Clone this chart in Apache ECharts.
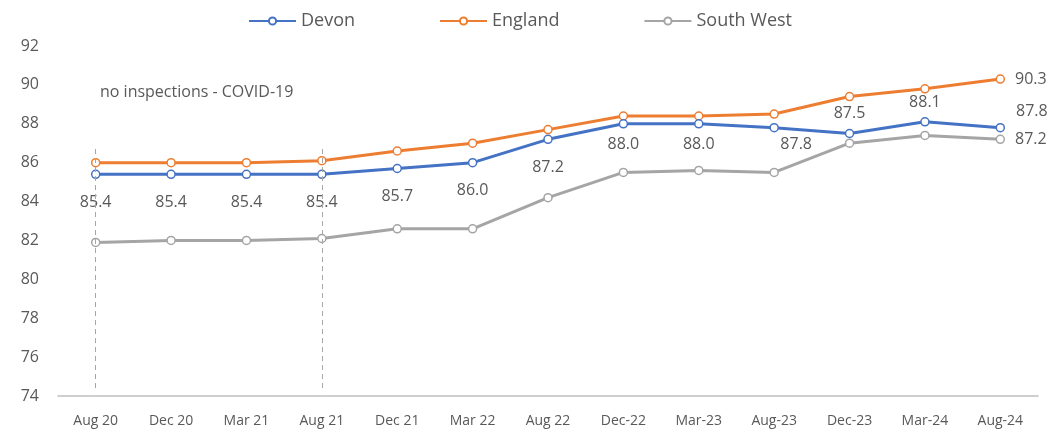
<!DOCTYPE html>
<html>
<head>
<meta charset="utf-8">
<script src="https://cdn.jsdelivr.net/npm/echarts@6/dist/echarts.min.js"></script>
<style>
  html, body { margin: 0; padding: 0; background: #fff; }
  #chart { width: 1055px; height: 429px; }
</style>
</head>
<body>
<div id="chart"></div>
<script>
// Inspection periods
const categories = ['Aug 20', 'Dec 20', 'Mar 21', 'Aug 21', 'Dec 21', 'Mar 22', 'Aug 22',
  'Dec-22', 'Mar-23', 'Aug-23', 'Dec-23', 'Mar-24', 'Aug-24'];

// Percentage values per area
const devon = [85.4, 85.4, 85.4, 85.4, 85.7, 86.0, 87.2, 88.0, 88.0, 87.8, 87.5, 88.1, 87.8];
const england = [86.0, 86.0, 86.0, 86.1, 86.6, 87.0, 87.7, 88.4, 88.4, 88.5, 89.4, 89.8, 90.3];
const southWest = [81.9, 82.0, 82.0, 82.1, 82.6, 82.6, 84.2, 85.5, 85.6, 85.5, 87.0, 87.4, 87.2];

// Periods with no inspections
const covidStart = 'Aug 20';
const covidEnd = 'Aug 21';
const covidNote = 'no inspections - COVID-19';

const labelColor = '#595959';
const font = 'Open Sans';

// Where each Devon value label sits relative to its point
function devonLabel(i) {
  const base = { show: true, color: labelColor, fontSize: 16, fontFamily: font,
    formatter: p => p.value.toFixed(1) };
  if (i === categories.length - 1) return Object.assign(base, { position: 'right', offset: [6, -16] });
  if (i === 10 || i === 11) return Object.assign(base, { position: 'top', distance: 7 });
  if (i === 9) return Object.assign(base, { position: 'bottom', distance: 4, offset: [22, 0] });
  if (i === 7 || i === 8) return Object.assign(base, { position: 'bottom', distance: 8 });
  return Object.assign(base, { position: 'bottom', distance: 15 });
}

function lastLabel(arr) {
  return arr.map((v, i) => i === arr.length - 1
    ? { value: v, label: { show: true, position: 'right', distance: 10, color: labelColor,
        fontSize: 16, fontFamily: font, formatter: p => p.value.toFixed(1) } }
    : v);
}

const common = {
  type: 'line',
  symbol: 'circle',
  symbolSize: 8,
  lineStyle: { width: 3 },
  z: 3
};

const chart = echarts.init(document.getElementById('chart'));
chart.setOption({
  animation: false,
  textStyle: { fontFamily: font },
  legend: {
    top: 7,
    left: 243,
    itemGap: 84,
    itemWidth: 47,
    itemHeight: 9,
    textStyle: { color: labelColor, fontSize: 18, fontFamily: font },
    data: ['Devon', 'England', 'South West']
  },
  grid: { left: 58, right: 17, top: 46, bottom: 33 },
  xAxis: {
    type: 'category',
    data: categories,
    boundaryGap: true,
    axisLine: { lineStyle: { color: '#BFBFBF', width: 1.5 } },
    axisTick: { show: false },
    axisLabel: { color: labelColor, fontSize: 14, fontFamily: font, margin: 18, interval: 0 }
  },
  yAxis: {
    type: 'value',
    min: 74,
    max: 92,
    interval: 2,
    splitLine: { show: false },
    axisLine: { show: false },
    axisTick: { show: false },
    axisLabel: { color: labelColor, fontSize: 16, fontFamily: font, margin: 19 }
  },
  series: [
    Object.assign({}, common, {
      name: 'Devon',
      color: '#4472C4',
      itemStyle: { color: '#fff', borderColor: '#4472C4', borderWidth: 1.5 },
      lineStyle: { width: 3, color: '#4472C4' },
      data: devon.map((v, i) => ({ value: v, label: devonLabel(i) })),
      markLine: {
        silent: true,
        symbol: 'none',
        label: { show: false },
        lineStyle: { color: '#A6A6A6', type: [5, 4], width: 1 },
        data: [
          [{ coord: [covidStart, 86.7] }, { coord: [covidStart, 74.2] }],
          [{ coord: [covidEnd, 86.7] }, { coord: [covidEnd, 74.2] }]
        ]
      },
      z: 4
    }),
    Object.assign({}, common, {
      name: 'England',
      color: '#ED7D31',
      itemStyle: { color: '#fff', borderColor: '#ED7D31', borderWidth: 1.5 },
      lineStyle: { width: 3, color: '#ED7D31' },
      data: lastLabel(england)
    }),
    Object.assign({}, common, {
      name: 'South West',
      color: '#A5A5A5',
      itemStyle: { color: '#fff', borderColor: '#A5A5A5', borderWidth: 1.5 },
      lineStyle: { width: 3, color: '#A5A5A5' },
      data: lastLabel(southWest)
    })
  ],
  graphic: [{
    type: 'text',
    left: 100,
    top: 84,
    style: { text: covidNote, fill: labelColor, fontSize: 16, fontFamily: font }
  }]
});
</script>
</body>
</html>
